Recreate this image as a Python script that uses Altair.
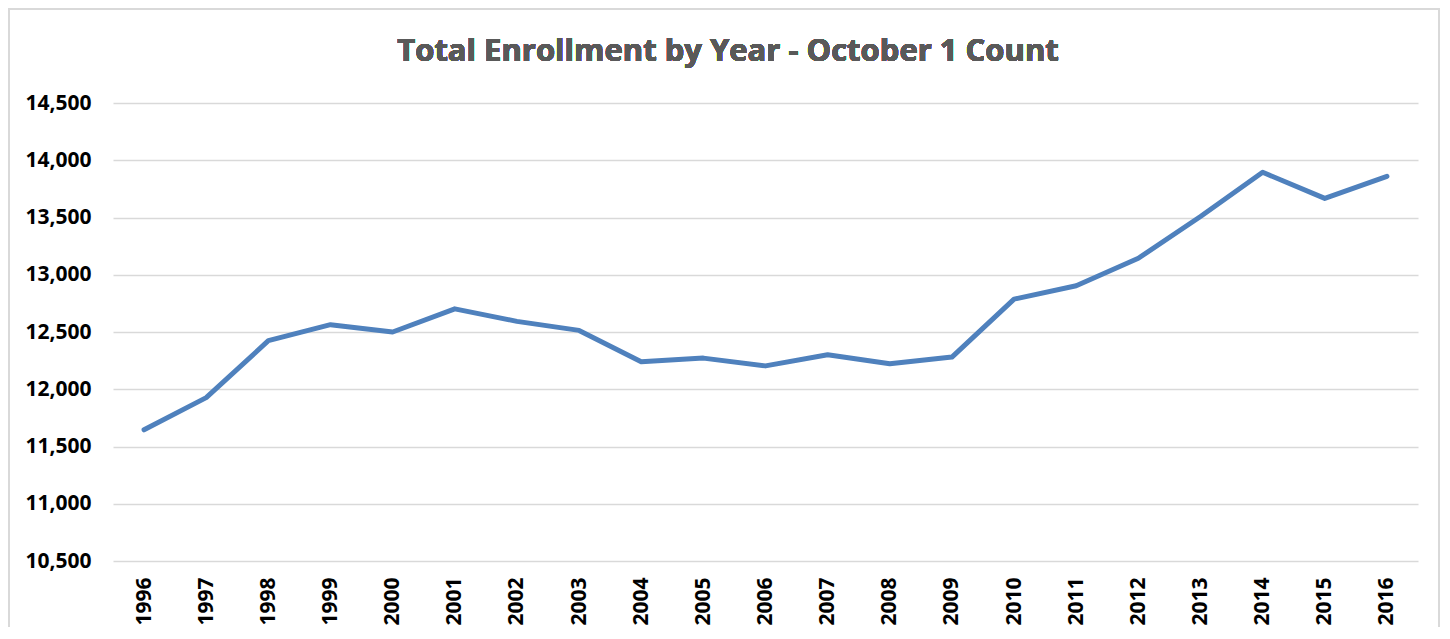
import altair as alt
import pandas as pd

years = [str(y) for y in range(1996, 2017)]
enrollment = [11646, 11927, 12424, 12564, 12500, 12702, 12593, 12514, 12240, 12272,
              12204, 12301, 12222, 12281, 12787, 12904, 13144, 13509, 13895, 13667, 13860]
y_ticks = [10500, 11000, 11500, 12000, 12500, 13000, 13500, 14000, 14500]
title_text = "Total Enrollment by Year - October 1 Count"

df = pd.DataFrame({"Year": years, "Enrollment": enrollment})

FONT = "Open Sans"

line = alt.Chart(df).mark_line(color="#4F81BD", strokeWidth=5, strokeCap="round", strokeJoin="round").encode(
    x=alt.X("Year:O", sort=years, title=None,
            scale=alt.Scale(paddingInner=0, paddingOuter=0.5),
            axis=alt.Axis(labelAngle=-90, labelFont=FONT, labelFontWeight="bold", labelFontSize=21,
                          labelColor="#000000", labelPadding=16, ticks=False, domain=False, grid=False)),
    y=alt.Y("Enrollment:Q", title=None,
            scale=alt.Scale(domain=[10500, 14500], nice=False, zero=False),
            axis=alt.Axis(values=y_ticks, format=",.0f", labelFont=FONT, labelFontWeight="bold",
                          labelFontSize=21, labelColor="#000000", labelPadding=22, ticks=False,
                          domain=False, gridColor="#D9D9D9", gridWidth=1.5,
                          minExtent=90, maxExtent=90)),
)

frame = alt.Chart(df).mark_rect(fill=None, stroke="#D9D9D9", strokeWidth=2, clip=False).encode(
    x=alt.value(-104), x2=alt.value(1326), y=alt.value(-94), y2=alt.value(560)
)

title = alt.Chart(df).mark_text(
    text=title_text, font=FONT, fontSize=31, fontWeight="bold", color="#595959",
    align="center", baseline="alphabetic",
).encode(x=alt.value(615), y=alt.value(-42))

chart = alt.layer(frame, line, title).properties(
    width=1305,
    height=458,
    autosize=alt.AutoSizeParams(type="none"),
    padding={"left": 105, "top": 95, "right": 24, "bottom": 66},
).configure(background="white").configure_view(stroke=None)

chart.save("out.html", embed_options={"renderer": "svg", "actions": False})
